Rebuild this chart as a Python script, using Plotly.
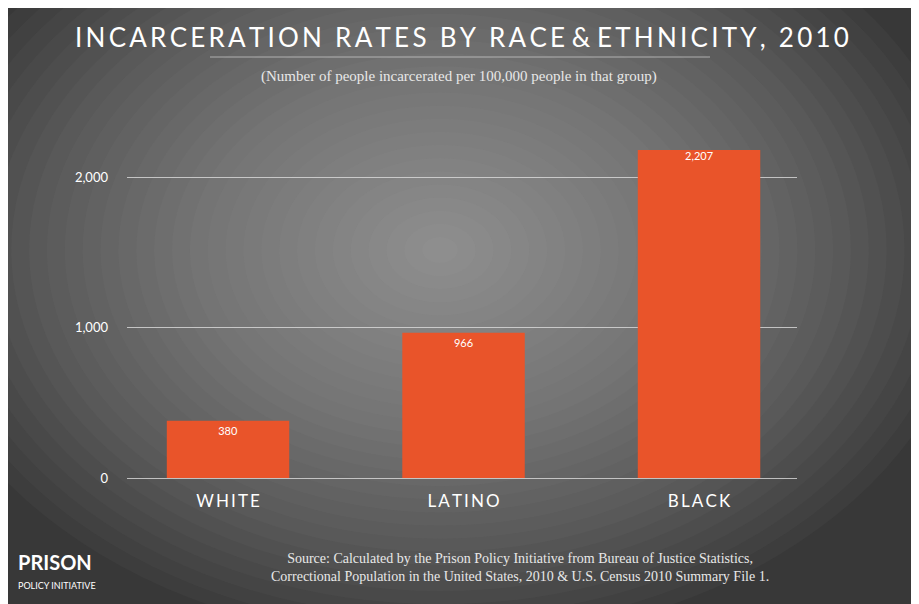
import plotly.graph_objects as go

categories = ["WHITE", "LATINO", "BLACK"]
values = [380, 966, 2207]
value_labels = ["380", "966", "2,207"]
tick_vals = [0, 1000, 2000]
tick_text = ["0", "1,000", "2,000"]

OFF = 8
L, T = 127 - OFF, 150 - OFF
PW, PH = 670, 328

def sp(s):
    return "\u2009".join(s)

positions = list(range(len(categories)))

fig = go.Figure()
fig.add_bar(
    x=positions, y=values, width=0.52,
    marker=dict(color="#e9542a", line=dict(width=0)),
    text=value_labels, textposition="inside", insidetextanchor="end",
    textfont=dict(color="white", size=11, family="Lato"),
    hoverinfo="skip",
)

def px(p):
    return (p - OFF - L) / PW

def py(p):
    return (T + PH - (p - OFF)) / PH

shapes = []
n = 30
for i in range(n):
    r = 1.0 - i / n
    shapes.append(dict(type="circle", xref="paper", yref="paper", layer="below",
                       x0=px(440) - 0.8 * r, x1=px(440) + 0.8 * r,
                       y0=py(250) - 1.2 * r, y1=py(250) + 1.2 * r,
                       fillcolor="rgba(200,200,200,0.035)", line=dict(width=0)))
shapes.append(dict(type="line", xref="paper", yref="paper",
                   x0=px(210), x1=px(710), y0=py(57), y1=py(57),
                   line=dict(color="rgba(210,210,210,0.7)", width=1)))

annotations = [
    dict(text=sp("INCARCERATION RATES BY RACE") + " &amp; " + sp("ETHNICITY, 2010"), x=px(462), y=py(37),
         xref="paper", yref="paper", showarrow=False, yanchor="middle",
         font=dict(color="white", size=26, family="Lato")),
    dict(text="(Number of people incarcerated per 100,000 people in that group)", x=px(459), y=py(76),
         xref="paper", yref="paper", showarrow=False, yanchor="middle",
         font=dict(color="#e8e8e8", size=15, family="Liberation Serif")),
    dict(text="Source: Calculated by the Prison Policy Initiative from Bureau of Justice Statistics,<br>"
              "Correctional Population in the United States, 2010 &amp; U.S. Census 2010 Summary File 1.",
         x=px(520), y=py(567), xref="paper", yref="paper", showarrow=False, yanchor="middle",
         font=dict(color="#e8e8e8", size=14, family="Liberation Serif")),
    dict(text="<b>PRISON</b>", x=px(16), y=py(562), xref="paper", yref="paper", showarrow=False,
         xanchor="left", yanchor="middle", font=dict(color="white", size=20, family="Lato")),
    dict(text="POLICY INITIATIVE", x=px(16), y=py(585), xref="paper", yref="paper", showarrow=False,
         xanchor="left", yanchor="middle", font=dict(color="white", size=9, family="Lato")),
]

fig.update_layout(
    width=919, height=604,
    margin=dict(l=L, r=919 - L - PW, t=T, b=604 - T - PH),
    paper_bgcolor="#383838", plot_bgcolor="rgba(0,0,0,0)",
    showlegend=False, shapes=shapes, annotations=annotations,
    xaxis=dict(range=[-0.429, 2.416], showgrid=False, showline=False, zeroline=False, ticks="",
               tickvals=positions, ticktext=[sp(c) for c in categories],
               tickfont=dict(color="white", size=17, family="Lato"), ticklabelstandoff=11),
    yaxis=dict(range=[0, 2180], tickvals=tick_vals, ticktext=tick_text,
               showgrid=True, gridcolor="rgba(220,220,220,0.8)", gridwidth=1,
               zeroline=True, zerolinecolor="rgba(220,220,220,0.8)", zerolinewidth=1,
               tickfont=dict(color="white", size=13, family="Lato"), ticklabelstandoff=18),
)

fig.write_html("out.html")
